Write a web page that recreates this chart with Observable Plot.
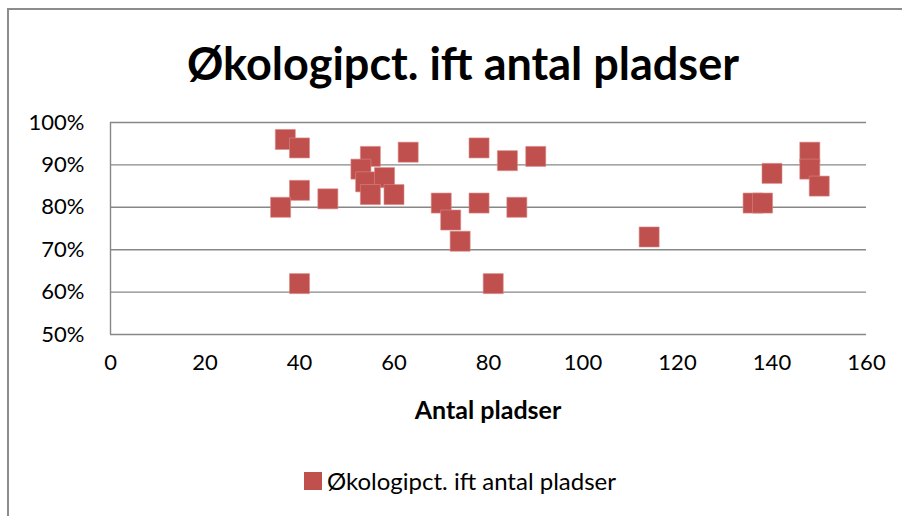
<!DOCTYPE html>
<html><head><meta charset="utf-8">
<script src="https://cdn.jsdelivr.net/npm/d3@7"></script>
<script src="https://cdn.jsdelivr.net/npm/@observablehq/plot@0.6"></script>
<style>
body{margin:0;background:#fff;}
#wrap{position:relative;width:902px;height:516px;overflow:hidden;font-family:Lato,"Open Sans",sans-serif;color:#000;}
#border{position:absolute;left:7px;top:8px;width:920px;height:540px;border:2px solid #8c8c8c;box-sizing:border-box;}
#chart{position:absolute;left:0;top:0;}
.t{position:absolute;white-space:nowrap;line-height:1;}
#title{left:0;width:926px;top:41px;text-align:center;font-weight:bold;font-size:45px;}
#xlabel{left:0;width:976px;top:397px;text-align:center;font-weight:bold;font-size:25px;}
#legend{left:304px;top:469px;font-size:24px;display:flex;align-items:center;}
#legend .sw{width:18px;height:18px;background:#C0504D;margin-right:5px;}
</style></head>
<body>
<div id="wrap">
  <div id="border"></div>
  <div id="chart"></div>
  <div class="t" id="title">Økologipct. ift antal pladser</div>
  <div class="t" id="xlabel">Antal pladser</div>
  <div class="t" id="legend"><div class="sw"></div><span>Økologipct. ift antal pladser</span></div>
</div>
<script>
const pladser = [37, 40, 40, 36, 46, 40, 55, 53, 54, 58, 55, 60, 63, 70, 72, 74, 78, 78, 81, 84, 90, 86, 114, 136, 138, 140, 148, 148, 150];
const oekoPct = [0.96, 0.94, 0.84, 0.80, 0.82, 0.62, 0.92, 0.89, 0.86, 0.87, 0.83, 0.83, 0.93, 0.81, 0.77, 0.72, 0.94, 0.81, 0.62, 0.91, 0.92, 0.80, 0.73, 0.81, 0.81, 0.88, 0.93, 0.89, 0.85];
const xTicks = [0, 20, 40, 60, 80, 100, 120, 140, 160];
const yTicks = [0.5, 0.6, 0.7, 0.8, 0.9, 1.0];
const yTickLabels = ["50%", "60%", "70%", "80%", "90%", "100%"];

const data = pladser.map((x, i) => ({x, y: oekoPct[i]}));

const chart = Plot.plot({
  width: 902,
  height: 516,
  marginTop: 122,
  marginBottom: 182,
  marginLeft: 110,
  marginRight: 36,
  style: {fontFamily: "Lato, 'Open Sans', sans-serif", fontSize: "22px", color: "#000", background: "transparent", overflow: "visible"},
  x: {domain: [0, 160]},
  y: {domain: [0.5, 1]},
  marks: [
    Plot.ruleY(yTicks, {stroke: "#878787", strokeWidth: 1.4}),
    Plot.ruleX([0], {stroke: "#878787", strokeWidth: 1.4}),
    Plot.axisX({ticks: xTicks, tickSize: 0, tickPadding: 20, tickFormat: d => String(d), label: null, fontSize: 22}),
    Plot.axisY({ticks: yTicks, tickSize: 0, tickPadding: 26, tickFormat: d => yTickLabels[yTicks.indexOf(d)], label: null, fontSize: 22}),
    Plot.dot(data, {x: "x", y: "y", symbol: "square", r: 11.3, fill: "#C0504D", stroke: "#d88a88", strokeWidth: 0.6})
  ]
});
document.getElementById("chart").appendChild(chart);
</script>
</body></html>
